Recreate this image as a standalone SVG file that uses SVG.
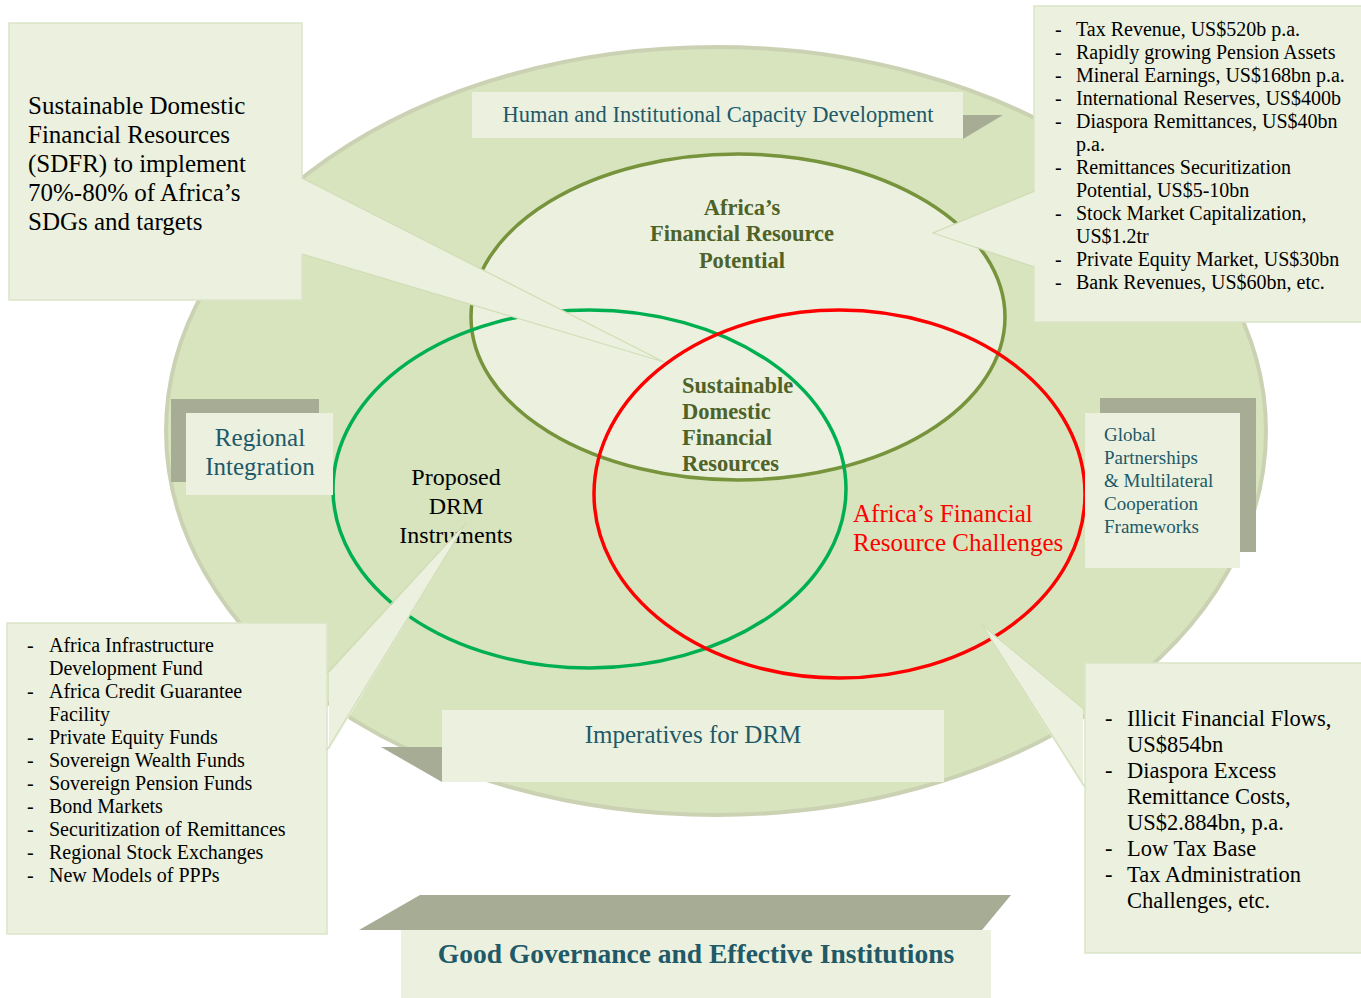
<svg xmlns="http://www.w3.org/2000/svg" width="1361" height="998" viewBox="0 0 1361 998">
<defs>
<style>
.bg{fill:#d7e4bd;stroke:#cbd2b4;stroke-width:4}
.box{fill:#ebf1de;stroke:#dbe5c8;stroke-width:1.5}
.lab{fill:#ebf1de}
.shadow{fill:#a7ad95}
.wedge{fill:#ebf1de}
.wedge-edge{fill:none;stroke:#d2ddb8;stroke-width:1.2}
.t{font-family:"Liberation Serif","Times New Roman",serif}
.teal{fill:#215968}
.olive{fill:#4f6228;font-weight:bold}
.blk{fill:#000000}
.red{fill:#ff0000}
</style>
</defs>
<rect width="1361" height="998" fill="#ffffff"/>

<g id="background-ellipse">
<ellipse class="bg" cx="716" cy="431" rx="550" ry="384"/>
</g>

<g id="shadows">
<rect class="shadow" x="171" y="399" width="148" height="83"/>
<rect class="shadow" x="1100" y="398" width="156" height="154"/>
<polygon class="shadow" points="963,115 1003,115 963,139"/>
<polygon class="shadow" points="381,747 442,747 442,782"/>
</g>

<g id="venn">
<g id="potential">
<ellipse cx="738" cy="317" rx="267" ry="163" fill="#ebf1de" stroke="#77933c" stroke-width="3.5"/>
</g>
<g id="instruments">
<ellipse cx="589.5" cy="489" rx="256.5" ry="179" fill="none" stroke="#00b050" stroke-width="3.5"/>
</g>
<g id="challenges">
<ellipse cx="839.5" cy="494" rx="245.5" ry="184" fill="none" stroke="#ff0000" stroke-width="3.5"/>
</g>
</g>

<g id="human-capacity">
<rect class="lab" x="472" y="92" width="491" height="46"/>
<text class="t teal" x="718" y="122" font-size="22.5" text-anchor="middle">Human and Institutional Capacity Development</text>
</g>

<g id="regional-integration">
<rect class="lab" x="186" y="413" width="147" height="82"/>
<text class="t teal" font-size="25" text-anchor="middle"><tspan x="260" y="446">Regional</tspan><tspan x="260" y="475">Integration</tspan></text>
</g>

<g id="global-partnerships">
<rect class="lab" x="1085" y="413" width="155" height="155"/>
<text class="t teal" font-size="19"><tspan x="1104" y="441">Global</tspan><tspan x="1104" y="464">Partnerships</tspan><tspan x="1104" y="487">&amp; Multilateral</tspan><tspan x="1104" y="510">Cooperation</tspan><tspan x="1104" y="533">Frameworks</tspan></text>
</g>

<g id="imperatives">
<rect class="lab" x="442" y="710" width="502" height="72"/>
<text class="t teal" x="693" y="743" font-size="25" text-anchor="middle">Imperatives for DRM</text>
</g>

<g id="venn-labels">
<text class="t olive" font-size="22.5" text-anchor="middle"><tspan x="742" y="215">Africa’s</tspan><tspan x="742" y="241">Financial Resource</tspan><tspan x="742" y="268">Potential</tspan></text>
<text class="t olive" font-size="22.5"><tspan x="682" y="393">Sustainable</tspan><tspan x="682" y="419">Domestic</tspan><tspan x="682" y="445">Financial</tspan><tspan x="682" y="471">Resources</tspan></text>
<text class="t blk" font-size="24" text-anchor="middle"><tspan x="456" y="485">Proposed</tspan><tspan x="456" y="514">DRM</tspan><tspan x="456" y="543">Instruments</tspan></text>
<text class="t red" font-size="25"><tspan x="853" y="522">Africa’s Financial</tspan><tspan x="853" y="551">Resource Challenges</tspan></text>
</g>

<g id="sdfr-callout">
<rect class="box" x="9" y="23" width="293" height="277"/>
<text class="t blk" font-size="25"><tspan x="28" y="114">Sustainable Domestic</tspan><tspan x="28" y="143">Financial Resources</tspan><tspan x="28" y="172">(SDFR) to implement</tspan><tspan x="28" y="201">70%-80% of Africa’s</tspan><tspan x="28" y="230">SDGs and targets</tspan></text>
</g>

<g id="potential-callout">
<rect class="box" x="1034" y="6" width="330" height="316"/>
<text class="t blk" font-size="20" x="1055"><tspan x="1055" y="36">-</tspan><tspan x="1055" y="59">-</tspan><tspan x="1055" y="82">-</tspan><tspan x="1055" y="105">-</tspan><tspan x="1055" y="128">-</tspan><tspan x="1055" y="174">-</tspan><tspan x="1055" y="220">-</tspan><tspan x="1055" y="266">-</tspan><tspan x="1055" y="289">-</tspan></text>
<text class="t blk" font-size="20"><tspan x="1076" y="36">Tax Revenue, US$520b p.a.</tspan><tspan x="1076" y="59">Rapidly growing Pension Assets</tspan><tspan x="1076" y="82">Mineral Earnings, US$168bn p.a.</tspan><tspan x="1076" y="105">International Reserves, US$400b</tspan><tspan x="1076" y="128">Diaspora Remittances, US$40bn</tspan><tspan x="1076" y="151">p.a.</tspan><tspan x="1076" y="174">Remittances Securitization</tspan><tspan x="1076" y="197">Potential, US$5-10bn</tspan><tspan x="1076" y="220">Stock Market Capitalization,</tspan><tspan x="1076" y="243">US$1.2tr</tspan><tspan x="1076" y="266">Private Equity Market, US$30bn</tspan><tspan x="1076" y="289">Bank Revenues, US$60bn, etc.</tspan></text>
</g>

<g id="instruments-callout">
<rect class="box" x="7" y="623" width="320" height="311"/>
<text class="t blk" font-size="20"><tspan x="27" y="652">-</tspan><tspan x="27" y="698">-</tspan><tspan x="27" y="744">-</tspan><tspan x="27" y="767">-</tspan><tspan x="27" y="790">-</tspan><tspan x="27" y="813">-</tspan><tspan x="27" y="836">-</tspan><tspan x="27" y="859">-</tspan><tspan x="27" y="882">-</tspan></text>
<text class="t blk" font-size="20"><tspan x="49" y="652">Africa Infrastructure</tspan><tspan x="49" y="675">Development Fund</tspan><tspan x="49" y="698">Africa Credit Guarantee</tspan><tspan x="49" y="721">Facility</tspan><tspan x="49" y="744">Private Equity Funds</tspan><tspan x="49" y="767">Sovereign Wealth Funds</tspan><tspan x="49" y="790">Sovereign Pension Funds</tspan><tspan x="49" y="813">Bond Markets</tspan><tspan x="49" y="836">Securitization of Remittances</tspan><tspan x="49" y="859">Regional Stock Exchanges</tspan><tspan x="49" y="882">New Models of PPPs</tspan></text>
</g>

<g id="challenges-callout">
<rect class="box" x="1085" y="663" width="278" height="290"/>
<text class="t blk" font-size="22.5"><tspan x="1105" y="726">-</tspan><tspan x="1105" y="778">-</tspan><tspan x="1105" y="856">-</tspan><tspan x="1105" y="882">-</tspan></text>
<text class="t blk" font-size="22.5"><tspan x="1127" y="726">Illicit Financial Flows,</tspan><tspan x="1127" y="752">US$854bn</tspan><tspan x="1127" y="778">Diaspora Excess</tspan><tspan x="1127" y="804">Remittance Costs,</tspan><tspan x="1127" y="830">US$2.884bn, p.a.</tspan><tspan x="1127" y="856">Low Tax Base</tspan><tspan x="1127" y="882">Tax Administration</tspan><tspan x="1127" y="908">Challenges, etc.</tspan></text>
</g>

<g id="connectors">
<polygon class="wedge" points="299,177 664,362 299,253"/>
<polyline class="wedge-edge" points="302,178 664,362 302,254"/>
<polygon class="wedge" points="1037,191 933,233 1037,267"/>
<polyline class="wedge-edge" points="1034,191 933,233 1034,267"/>
<polygon class="wedge" points="329,673 466,523 329,750"/>
<polyline class="wedge-edge" points="327,673 466,523 327,750"/>
<polygon class="wedge" points="1083,708 982,625 1083,787"/>
<polyline class="wedge-edge" points="1085,710 982,625 1085,787"/>
</g>

<g id="good-governance">
<polygon class="shadow" fill="#a4ac90" points="359,930 420,895 1011,895 982,930"/>
<rect class="lab" x="401" y="930" width="590" height="68"/>
<text class="t teal" x="696" y="963" font-size="27.5" font-weight="bold" text-anchor="middle">Good Governance and Effective Institutions</text>
</g>
</svg>
